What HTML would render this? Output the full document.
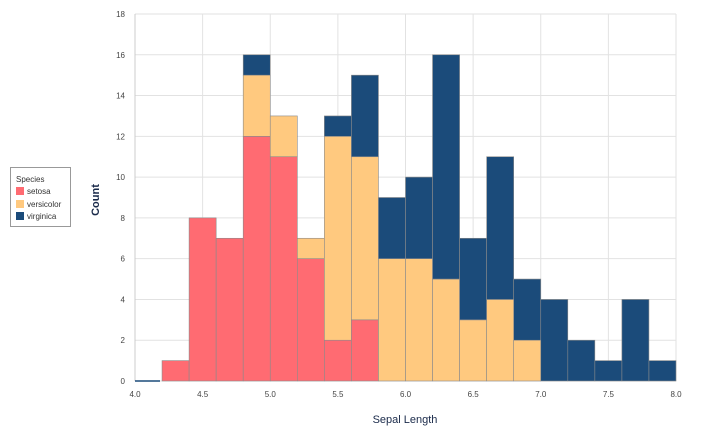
<!DOCTYPE html>
<html><head><meta charset="utf-8"><style>
body{margin:0;background:#fff;font-family:"Liberation Sans",sans-serif;}
svg text{font-family:"Liberation Sans",sans-serif;}
</style></head><body>
<svg id="chart" width="701" height="434" xmlns="http://www.w3.org/2000/svg">
<g id="grid"></g>
<g id="bars"></g>
<g id="axes"></g>
<text x="405" y="423" text-anchor="middle" font-size="11" fill="#1a2a4a">Sepal Length</text>
<text x="99" y="200" text-anchor="middle" font-size="11" font-weight="bold" fill="#1a2a4a" transform="rotate(-90 99 200)">Count</text>
<g>
<rect x="10.5" y="167.5" width="60" height="59" fill="#fff" stroke="#999"/>
<text x="16" y="182" font-size="8" fill="#333">Species</text>
<rect x="16" y="187" width="8" height="8" fill="#FF6B72"/>
<text x="27" y="194" font-size="8" fill="#333">setosa</text>
<rect x="16" y="200" width="8" height="8" fill="#FFC97F"/>
<text x="27" y="207" font-size="8" fill="#333">versicolor</text>
<rect x="16" y="212" width="8" height="8" fill="#1B4B7A"/>
<text x="27" y="219" font-size="8" fill="#333">virginica</text>
</g>
</svg>
<script>
const binStarts=[4.0,4.2,4.4,4.6,4.8,5.0,5.2,5.4,5.6,5.8,6.0,6.2,6.4,6.6,6.8,7.0,7.2,7.4,7.6,7.8];
const setosa=[0,1,8,7,12,11,6,2,3,0,0,0,0,0,0,0,0,0,0,0];
const versicolor=[0,0,0,0,3,2,1,10,8,6,6,5,3,4,2,0,0,0,0,0];
const virginica=[0,0,0,0,1,0,0,1,4,3,4,11,4,7,3,4,2,1,4,1];
const xTicks=[4.0,4.5,5.0,5.5,6.0,6.5,7.0,7.5,8.0];
const yTicks=[0,2,4,6,8,10,12,14,16,18];
const binWidth=0.2;
const NS="http://www.w3.org/2000/svg";
const X0=135,X1=676,Y0=381,Y1=14;
function xs(v){return X0+(v-4)/(8-4)*(X1-X0);}
function ys(v){return Y0-v/18*(Y0-Y1);}
function mk(tag,attrs,parent){const e=document.createElementNS(NS,tag);for(const k in attrs)e.setAttribute(k,attrs[k]);parent.appendChild(e);return e;}
const grid=document.getElementById('grid'),bars=document.getElementById('bars'),axes=document.getElementById('axes');
xTicks.forEach(t=>{
  const l=mk('line',{x1:xs(t),x2:xs(t),y1:Y1,y2:Y0,stroke:'#e2e2e2'},grid);
  
  
  const tx=mk('text',{x:xs(t),y:Y0+16,'text-anchor':'middle','font-size':'8',fill:'#444'},axes);
  tx.textContent=t.toFixed(1);
  
  
});
yTicks.forEach(t=>{
  const l=mk('line',{x1:X0,x2:X1,y1:ys(t),y2:ys(t),stroke:'#e2e2e2'},grid);
  
  
  const tx=mk('text',{x:X0-10,y:ys(t)+3,'text-anchor':'end','font-size':'8',fill:'#444'},axes);
  tx.textContent=t;
  
  
});
const series=[[setosa,'#FF6B72','setosa'],[versicolor,'#FFC97F','versicolor'],[virginica,'#1B4B7A','virginica']];
binStarts.forEach((b,i)=>{
  let base=0;
  series.forEach(([arr,col,nm])=>{
    const v=arr[i];
    if(v>0){
      const r=mk('rect',{x:xs(b),y:ys(base+v),width:xs(b+binWidth)-xs(b),height:ys(base)-ys(base+v),fill:col,stroke:'#8a8a8a','stroke-width':'0.6'},bars);
      
      
    }
    base+=v;
  });
});
const ax=mk('line',{x1:X0,x2:X0,y1:Y1,y2:Y0,stroke:'#ccc'},axes);


const bx=mk('line',{x1:X0,x2:X0+25,y1:Y0,y2:Y0,stroke:'#1B4B7A','stroke-width':'1.5'},axes);


</script>
</body></html>
